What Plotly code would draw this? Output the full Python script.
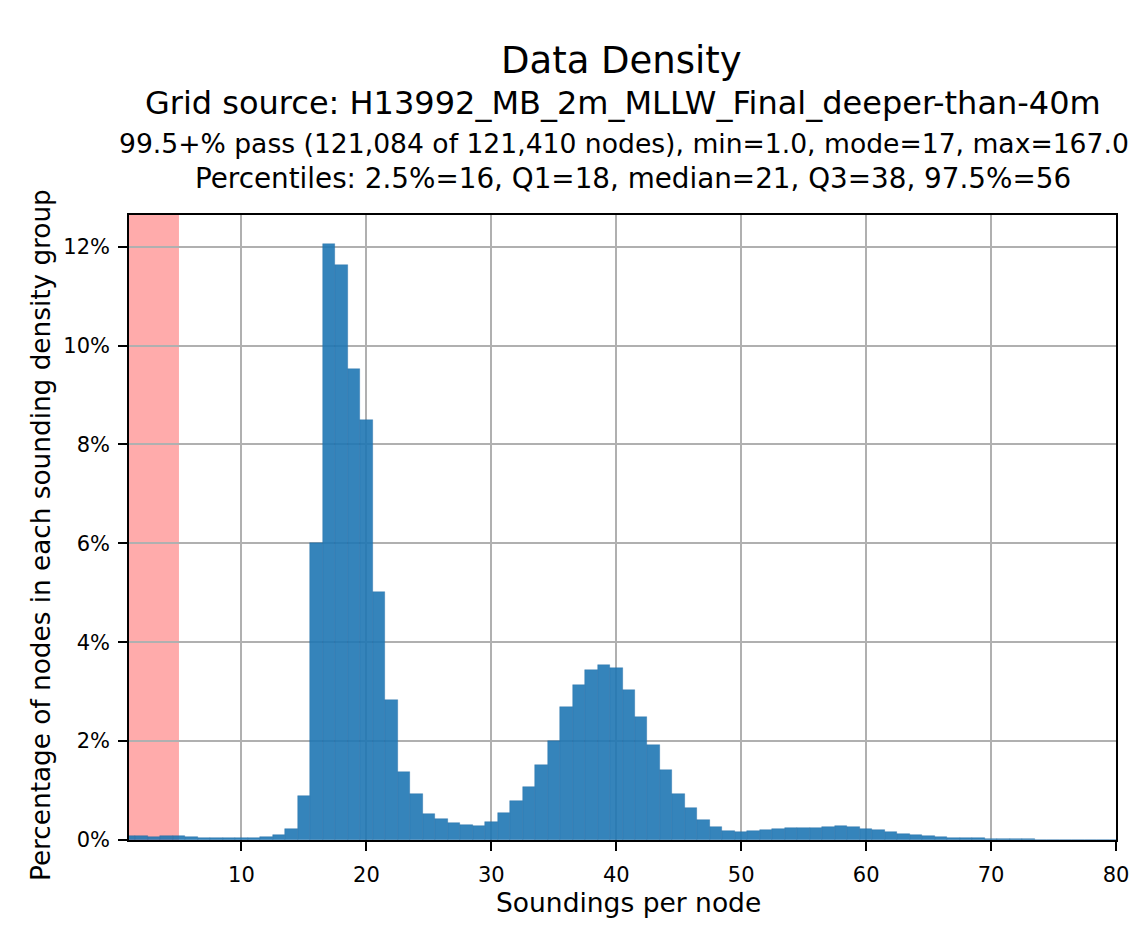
import plotly.graph_objects as go

# ---- data ----
soundings = list(range(1, 81))
percent_nodes = [
    0.08, 0.08, 0.07, 0.08, 0.09, 0.06, 0.05, 0.04, 0.04, 0.04,   # 1-10
    0.05, 0.06, 0.10, 0.22, 0.89, 6.01, 12.06, 11.63, 9.52, 8.49,  # 11-20
    5.01, 2.84, 1.38, 0.93, 0.52, 0.42, 0.35, 0.30, 0.28, 0.37,    # 21-30
    0.54, 0.78, 1.08, 1.51, 2.01, 2.68, 3.13, 3.44, 3.54, 3.47,    # 31-40
    3.03, 2.49, 1.92, 1.42, 0.94, 0.64, 0.40, 0.27, 0.18, 0.17,    # 41-50
    0.19, 0.21, 0.23, 0.24, 0.24, 0.24, 0.26, 0.28, 0.26, 0.23,    # 51-60
    0.20, 0.16, 0.13, 0.10, 0.08, 0.06, 0.05, 0.04, 0.04, 0.03,    # 61-70
    0.03, 0.02, 0.02, 0.01, 0.01, 0.01, 0.01, 0.01, 0.01, 0.01,    # 71-80
]
x_ticks = [10, 20, 30, 40, 50, 60, 70, 80]
y_ticks = [0, 2, 4, 6, 8, 10, 12]
y_tick_labels = ["0%", "2%", "4%", "6%", "8%", "10%", "12%"]
fail_threshold = 5  # red band: sounding counts below this fail

title_lines = [
    "Data Density",
    "Grid source: H13992_MB_2m_MLLW_Final_deeper-than-40m",
    "99.5+% pass (121,084 of 121,410 nodes), min=1.0, mode=17, max=167.0",
    "Percentiles: 2.5%=16, Q1=18, median=21, Q3=38, 97.5%=56",
]
x_title = "Soundings per node"
y_title = "Percentage of nodes in each sounding density group"

FONT = "DejaVu Sans"
W, H = 1141, 929
ML, MR, MT, MB = 129, 14, 215, 89
PH = H - MT - MB
PW = W - ML - MR


def py(pix):
    return (H - MB - pix) / PH


def px(pix):
    return (pix - ML) / PW


fig = go.Figure()
fig.add_trace(go.Bar(
    x=soundings, y=percent_nodes, width=1.0,
    marker=dict(color="rgba(31,119,180,0.9)",
                line=dict(color="rgba(25,100,160,0.55)", width=0.6)),
    showlegend=False,
))

fig.add_shape(type="rect", xref="x", yref="paper", x0=soundings[0] - 0.5, x1=fail_threshold,
              y0=0, y1=1, fillcolor="rgba(255,0,0,0.33)", line=dict(width=0), layer="below")

title_sizes = [37, 32, 26.6, 27.8]
title_pix = [60, 103, 143, 178]
title_x = [627, 628, 630, 639]
for txt, sz, yp, xp in zip(title_lines, title_sizes, title_pix, title_x):
    fig.add_annotation(text=txt, xref="paper", yref="paper", x=px(xp), y=py(yp),
                       xanchor="center", yanchor="middle", showarrow=False,
                       font=dict(family=FONT, size=sz, color="black"))

fig.add_annotation(text=x_title, xref="paper", yref="paper", x=px(634), y=py(902),
                   xanchor="center", yanchor="middle", showarrow=False,
                   font=dict(family=FONT, size=26.5, color="black"))
fig.add_annotation(text=y_title, xref="paper", yref="paper", x=px(40),
                   y=py(535), xanchor="center", yanchor="middle", showarrow=False, textangle=-90,
                   font=dict(family=FONT, size=26.3, color="black"))

fig.update_layout(
    width=W, height=H,
    margin=dict(l=ML, r=MR, t=MT, b=MB, pad=0),
    paper_bgcolor="white", plot_bgcolor="white",
    bargap=0,
    font=dict(family=FONT, color="black"),
)
fig.update_xaxes(
    range=[1, 80], tickmode="array", tickvals=x_ticks, ticktext=[str(v) for v in x_ticks],
    ticks="outside", ticklen=9, tickwidth=1.5, ticklabelstandoff=6,
    tickcolor="black", showline=True, linecolor="black", linewidth=1.5, mirror=True,
    showgrid=True, gridcolor="#b0b0b0", gridwidth=1.5, zeroline=False,
    tickfont=dict(family=FONT, size=21, color="black"),
)
fig.update_yaxes(
    range=[0, 12.64], tickmode="array", tickvals=y_ticks, ticktext=y_tick_labels,
    ticks="outside", ticklen=9, ticklabelstandoff=4,
    tickwidth=1.5, tickcolor="black", showline=True, linecolor="black", linewidth=1.5,
    mirror=True, showgrid=True, gridcolor="#b0b0b0", gridwidth=1.5, zeroline=False,
    tickfont=dict(family=FONT, size=21, color="black"),
)

fig.write_html("out.html")
